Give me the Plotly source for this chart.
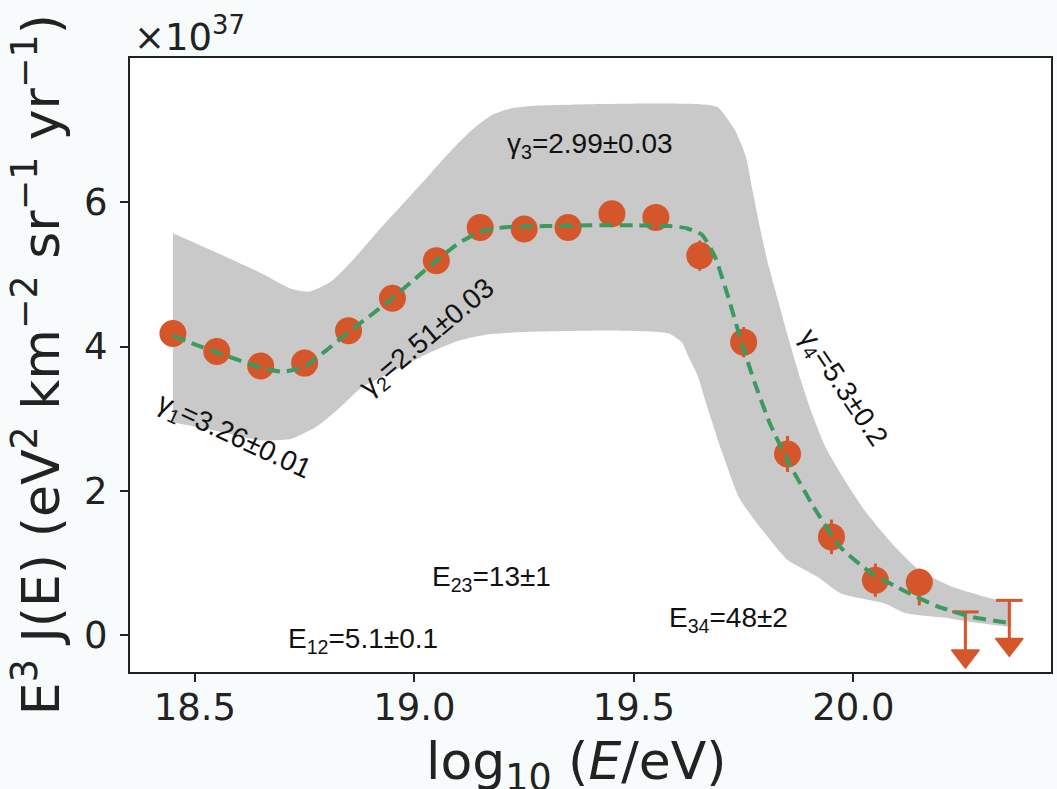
import plotly.graph_objects as go

# ---------------- data (flux in units of 1e37 eV^2 km^-2 sr^-1 yr^-1) ----------------
log_e = [18.45, 18.55, 18.65, 18.75, 18.85, 18.95, 19.05, 19.15, 19.25,
         19.35, 19.45, 19.55, 19.65, 19.75, 19.85, 19.95, 20.05, 20.15]
flux = [4.18, 3.93, 3.73, 3.77, 4.22, 4.67, 5.19, 5.65, 5.63,
        5.65, 5.84, 5.79, 5.26, 4.06, 2.51, 1.36, 0.76, 0.73]
err_plus = [0.05, 0.05, 0.05, 0.05, 0.06, 0.07, 0.08, 0.09, 0.10,
            0.11, 0.12, 0.14, 0.21, 0.21, 0.25, 0.24, 0.23, 0.19]
err_minus = [0.05, 0.05, 0.05, 0.05, 0.06, 0.07, 0.08, 0.09, 0.10,
             0.11, 0.12, 0.14, 0.21, 0.21, 0.25, 0.24, 0.23, 0.32]

ul_x = [20.255, 20.355]
ul_y = [0.32, 0.48]

fit_x = [18.45, 18.50, 18.55, 18.60, 18.65, 18.70, 18.75, 18.80, 18.85, 18.90,
         18.95, 19.00, 19.05, 19.10, 19.15, 19.20, 19.30, 19.40, 19.50, 19.58,
         19.62, 19.655, 19.685, 19.715, 19.745, 19.775, 19.81, 19.85, 19.91,
         19.97, 20.04, 20.12, 20.19, 20.27, 20.35]
fit_y = [4.15, 4.03, 3.92, 3.81, 3.71, 3.65, 3.72, 3.95, 4.20, 4.43,
         4.67, 4.93, 5.19, 5.43, 5.59, 5.65, 5.67, 5.68, 5.68, 5.67,
         5.64, 5.55, 5.24, 4.68, 4.06, 3.50, 2.93, 2.42, 1.77,
         1.22, 0.86, 0.60, 0.40, 0.25, 0.17]

band_up_x = [18.45, 18.55, 18.65, 18.72, 18.76, 18.81, 18.86, 18.91, 18.97, 19.04,
             19.10, 19.14, 19.18, 19.22, 19.28, 19.40, 19.55, 19.65, 19.69, 19.73,
             19.755, 19.77, 19.785, 19.805, 19.83, 19.855, 19.88, 19.905, 19.936,
             19.98, 20.03, 20.095, 20.15, 20.22, 20.30, 20.36]
band_up_y = [5.57, 5.30, 5.02, 4.80, 4.76, 4.90, 5.20, 5.55, 5.95, 6.42,
             6.82, 7.05, 7.22, 7.30, 7.34, 7.36, 7.37, 7.36, 7.32, 7.00,
             6.63, 6.17, 5.71, 5.16, 4.60, 4.05, 3.54, 3.08, 2.61,
             2.15, 1.69, 1.22, 0.90, 0.68, 0.53, 0.44]
band_lo_x = [18.45, 18.55, 18.65, 18.72, 18.78, 18.83, 18.88, 18.95, 19.03, 19.10,
             19.16, 19.25, 19.47, 19.58, 19.61, 19.625, 19.645, 19.66, 19.70, 19.74,
             19.78, 19.81, 19.85, 19.92, 19.97, 20.07, 20.12, 20.22, 20.28, 20.36]
band_lo_y = [2.95, 2.83, 2.70, 2.72, 2.90, 3.15, 3.43, 3.65, 3.90, 4.08,
             4.16, 4.20, 4.22, 4.18, 4.05, 3.85, 3.60, 3.30, 2.55, 1.90,
             1.55, 1.32, 1.04, 0.80, 0.58, 0.44, 0.30, 0.23, 0.17, 0.11]

x_ticks = [18.5, 19.0, 19.5, 20.0]
y_ticks = [0, 2, 4, 6]

# ---------------- styles ----------------
ORANGE = "#D6562B"
GREEN = "#3C9A5F"
GREY = "#C9C9C9"
PAGE_BG = "#F7FBFC"
X_RANGE = [18.3523, 20.45]
Y_RANGE = [-0.513, 8.0]
PLOT_H = 614  # px height of plotting area
PX_PER_Y = PLOT_H / (Y_RANGE[1] - Y_RANGE[0])
ARROW_PX = 56
TRI_SIZE = 24

fig = go.Figure()

# uncertainty band
fig.add_trace(go.Scatter(x=band_lo_x, y=band_lo_y, mode="lines",
                         line=dict(width=0, color=GREY, shape="spline", smoothing=0.6),
                         hoverinfo="skip"))
fig.add_trace(go.Scatter(x=band_up_x, y=band_up_y, mode="lines", fill="tonexty",
                         fillcolor=GREY,
                         line=dict(width=0, color=GREY, shape="spline", smoothing=0.6),
                         hoverinfo="skip"))

# data points with error bars
fig.add_trace(go.Scatter(x=log_e, y=flux, mode="markers",
                         marker=dict(size=27, color=ORANGE),
                         error_y=dict(type="data", symmetric=False, array=err_plus,
                                      arrayminus=err_minus, color=ORANGE,
                                      thickness=3, width=0)))

# upper limits: cap, stem, arrowhead
tip_y = [v - ARROW_PX / PX_PER_Y for v in ul_y]
head_y = [t + (TRI_SIZE / 2) / PX_PER_Y for t in tip_y]
stem_x, stem_y = [], []
for xx, top, hy in zip(ul_x, ul_y, head_y):
    stem_x += [xx, xx, None]
    stem_y += [top, hy, None]
fig.add_trace(go.Scatter(x=stem_x, y=stem_y, mode="lines",
                         line=dict(color=ORANGE, width=3), hoverinfo="skip"))
fig.add_trace(go.Scatter(x=ul_x, y=ul_y, mode="markers",
                         marker=dict(symbol="line-ew", size=19,
                                     line=dict(color=ORANGE, width=3))))
fig.add_trace(go.Scatter(x=ul_x, y=head_y, mode="markers",
                         marker=dict(symbol="triangle-down", size=TRI_SIZE, color=ORANGE,
                                     line=dict(color=ORANGE, width=1.5))))

# fit line
fig.add_trace(go.Scatter(x=fit_x, y=fit_y, mode="lines",
                         line=dict(color=GREEN, width=4, dash="13px,7px",
                                   shape="spline", smoothing=0.5)))

ann_font = dict(family="Liberation Sans, Arial, sans-serif", size=28, color="#111111")
labels = [
    ("γ<sub>1</sub>=3.26±0.01", 18.59, 2.74, 25),
    ("γ<sub>2</sub>=2.51±0.03", 19.03, 4.11, -40),
    ("γ<sub>3</sub>=2.99±0.03", 19.40, 6.79, 0),
    ("γ<sub>4</sub>=5.3±0.2", 19.975, 3.42, 56),
    ("E<sub>12</sub>=5.1±0.1", 18.884, -0.07, 0),
    ("E<sub>23</sub>=13±1", 19.175, 0.79, 0),
    ("E<sub>34</sub>=48±2", 19.716, 0.22, 0),
]
for txt, xx, yy, ang in labels:
    fig.add_annotation(x=xx, y=yy, xref="x", yref="y", text=txt, showarrow=False,
                       textangle=ang, font=ann_font, xanchor="center", yanchor="middle")

title_font = dict(family="DejaVu Sans, sans-serif", size=52, color="#222222")
fig.add_annotation(x=0.485, y=-0.0936, xref="paper", yref="paper",
                   text="log<sub>10</sub> (<i>E</i>/eV)", showarrow=False,
                   font=title_font, xanchor="center", yanchor="top")
fig.add_annotation(x=-0.1008, y=0.5, xref="paper", yref="paper",
                   text="E<sup>3</sup> J(E) (eV<sup>2</sup> km<sup>−2</sup> sr<sup>−1</sup> yr<sup>−1</sup>)",
                   showarrow=False, textangle=-90, font=title_font,
                   xanchor="center", yanchor="middle")
fig.add_annotation(x=0.0, y=1.0, xref="paper", yref="paper",
                   text="×10<sup>37</sup>", showarrow=False,
                   font=dict(family="DejaVu Sans, sans-serif", size=37, color="#222222"),
                   xanchor="left", yanchor="bottom", xshift=2, yshift=-3)

axis_common = dict(showline=True, linecolor="#222222", linewidth=2, mirror=True,
                   ticks="outside", ticklen=8, tickwidth=1.5, tickcolor="#222222",
                   showgrid=False, zeroline=False,
                   tickfont=dict(family="DejaVu Sans, sans-serif", size=37, color="#222222"))
fig.update_xaxes(range=X_RANGE, tickvals=x_ticks, tickformat=".1f",
                 ticklabelstandoff=-6, **axis_common)
fig.update_yaxes(range=Y_RANGE, tickvals=y_ticks, ticklabelstandoff=5, **axis_common)

fig.update_layout(width=1057, height=789, showlegend=False,
                  margin=dict(l=130, r=4, t=58, b=117),
                  paper_bgcolor=PAGE_BG, plot_bgcolor="#FFFFFF")

page_js = ("document.body.style.margin='0';document.body.style.padding='0';"
           "document.body.style.overflow='hidden';"
           "document.body.style.background='" + PAGE_BG + "';")
fig.write_html("out.html", post_script=page_js, config={"displayModeBar": False})
